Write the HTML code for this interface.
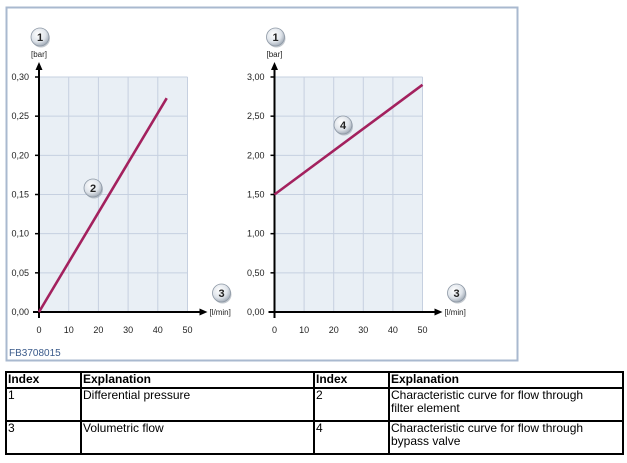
<!DOCTYPE html>
<html><head><meta charset="utf-8">
<style>
html,body{margin:0;padding:0;background:#fff;width:627px;height:463px;overflow:hidden}
svg{position:absolute;left:0;top:0}
table{position:absolute;left:5px;top:371px;width:617px;border-collapse:collapse;table-layout:fixed;font-family:"Liberation Sans",Arial,sans-serif;font-size:12px;color:#000}
td,th{border:2px solid #000;padding:0 1px;vertical-align:top;text-align:left;line-height:13px;overflow:hidden}
th{font-weight:bold;height:14px}
tr.r td{height:31px}
td.w{padding-right:18px}
</style></head><body>
<svg width="627" height="463" font-family="Liberation Sans, Arial, sans-serif">
<defs>
<radialGradient id="bub" cx="0.4" cy="0.35" r="0.7"><stop offset="0" stop-color="#ffffff"/><stop offset="0.6" stop-color="#dfe4ea"/><stop offset="1" stop-color="#9aa4b0"/></radialGradient>
</defs>
<rect x="6.5" y="7.5" width="511" height="353" fill="#fff" stroke="#a9b9cf" stroke-width="2"/>
<g id="charts"></g>
<text x="9" y="356" font-size="10" fill="#3a5a8a">FB3708015</text>
</svg>
<table>
<colgroup><col style="width:75px"><col style="width:233px"><col style="width:75px"><col style="width:234px"></colgroup>
<tr><th>Index</th><th>Explanation</th><th>Index</th><th>Explanation</th></tr>
<tr class="r"><td>1</td><td>Differential pressure</td><td>2</td><td class="w">Characteristic curve for flow through filter element</td></tr>
<tr class="r"><td>3</td><td>Volumetric flow</td><td>4</td><td class="w">Characteristic curve for flow through bypass valve</td></tr>
</table>
<script>
const xTicks=[0,10,20,30,40,50];
const leftYTicks=[0,0.05,0.10,0.15,0.20,0.25,0.30];
const rightYTicks=[0,0.5,1.0,1.5,2.0,2.5,3.0];
const leftSeriesX=[0,43];
const leftSeriesY=[0,0.273];
const rightSeriesX=[0,50];
const rightSeriesY=[1.5,2.9];
const NS="http://www.w3.org/2000/svg";
const root=document.getElementById('charts');
function mk(tag,attrs,parent){const e=document.createElementNS(NS,tag);for(const k in attrs)e.setAttribute(k,attrs[k]);(parent||root).appendChild(e);return e;}
function bubble(cx,cy,label,name){
  const g=mk('g',{});
  
  
  mk('circle',{cx:cx+1,cy:cy+1.5,r:9,fill:'#8a94a0',opacity:0.5},g);
  mk('circle',{cx:cx,cy:cy,r:9,fill:'url(#bub)',stroke:'#8c97a4','stroke-width':0.8},g);
  const t=mk('text',{x:cx,y:cy+4,'font-size':11,'font-weight':'bold','text-anchor':'middle',fill:'#222'},g);
  t.textContent=label;
}
function chart(x0,x1,yMax,yTicks,sx,sy,dec,curveLabel,clPos,prefix){
  const yTop=77,yBot=312;
  const X=v=>x0+(v-0)/(50-0)*(x1-x0);
  const Y=v=>yBot-v/yMax*(yBot-yTop);
  const bg=mk('rect',{x:x0,y:yTop,width:x1-x0,height:yBot-yTop,fill:'#e9eff5'});
  
  
  xTicks.forEach(v=>{ if(v>0){const l=mk('line',{x1:X(v),x2:X(v),y1:yTop,y2:yBot,stroke:'#c6d0e0','stroke-width':1});
    
    }
    const t=mk('text',{x:X(v),y:333,'font-size':9,'text-anchor':'middle',fill:'#222'});t.textContent=v;
    
    });
  yTicks.forEach(v=>{ if(v>0){const l=mk('line',{x1:x0,x2:x1,y1:Y(v),y2:Y(v),stroke:'#c6d0e0','stroke-width':1});
    
    }
    const t=mk('text',{x:x0-10,y:Y(v)+3,'font-size':9,'text-anchor':'end',fill:'#222'});t.textContent=v.toFixed(2).replace('.',',');
    
    
    mk('line',{x1:x0-4,x2:x0,y1:Y(v),y2:Y(v),stroke:'#000','stroke-width':1.5});});
  const ya=mk('line',{x1:x0,x2:x0,y1:yBot+6,y2:70,stroke:'#000','stroke-width':2});
  
  
  mk('polygon',{points:`${x0-3.5},70 ${x0+3.5},70 ${x0},62`,fill:'#000'});
  const xa=mk('line',{x1:x0-6,x2:x1+12,y1:yBot,y2:yBot,stroke:'#000','stroke-width':2});
  
  
  mk('polygon',{points:`${x1+12},${yBot-3.5} ${x1+12},${yBot+3.5} ${x1+20},${yBot}`,fill:'#000'});
  const yt=mk('text',{x:x0,y:57,'font-size':8,'text-anchor':'middle',fill:'#222'});yt.textContent='[bar]';
  
  
  const xt=mk('text',{x:x1+22,y:yBot+3,'font-size':8,fill:'#222'});xt.textContent='[l/min]';
  
  
  const pts=sx.map((v,i)=>X(v)+','+Y(sy[i])).join(' ');
  const pl=mk('polyline',{points:pts,fill:'none',stroke:'#a3215e','stroke-width':2.6});
  
  
  bubble(x0+1,37,'1',prefix+'-label-1');
  bubble(x1+34,293,'3',prefix+'-label-3');
  bubble(clPos[0],clPos[1],curveLabel,prefix+'-label-'+curveLabel);
}
chart(39,187.5,0.30,leftYTicks,leftSeriesX,leftSeriesY,2,'2',[93,188],'left-chart');
chart(274.5,422.5,3.0,rightYTicks,rightSeriesX,rightSeriesY,2,'4',[343,125],'right-chart');
</script>
</body></html>
